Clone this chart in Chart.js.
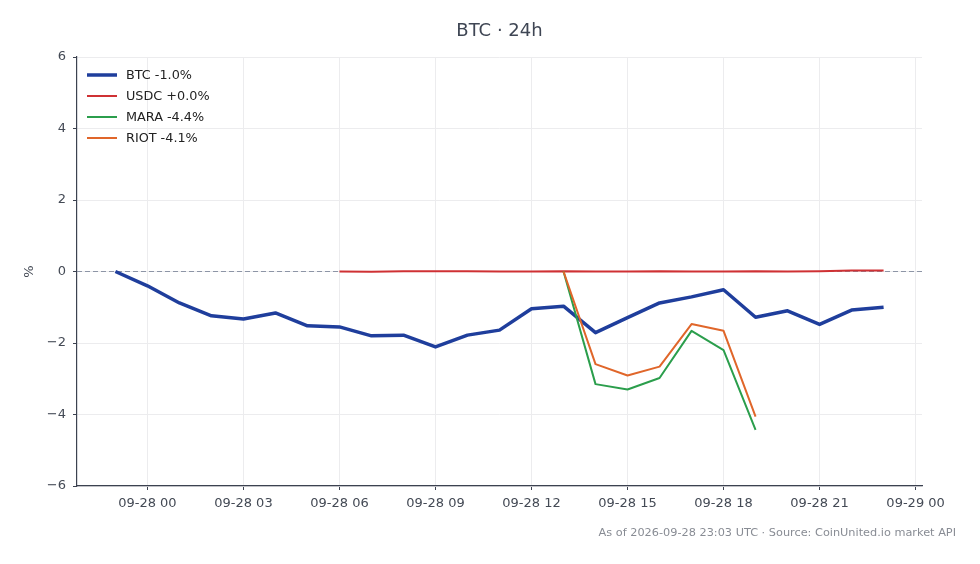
<!DOCTYPE html>
<html>
<head>
<meta charset="utf-8">
<script src="https://cdn.jsdelivr.net/npm/chart.js@4.4.1/dist/chart.umd.min.js"></script>
<style>
  html, body { margin: 0; padding: 0; background: #fff; }
  canvas { display: block; }
</style>
</head>
<body>
<canvas id="c" width="980" height="564"></canvas>
<script>
// hours relative to 09-28 00:00 UTC
const btcHours = [-1, 0, 1, 2, 3, 4, 5, 6, 7, 8, 9, 10, 11, 12, 13, 14, 15, 16, 17, 18, 19, 20, 21, 22, 23];
const btcPct = [0.0, -0.40, -0.88, -1.24, -1.33, -1.16, -1.52, -1.55, -1.80, -1.78, -2.11, -1.78, -1.64, -1.04, -0.97, -1.71, -1.29, -0.88, -0.71, -0.51, -1.28, -1.10, -1.48, -1.08, -1.0];

const usdcHours = [6, 7, 8, 9, 10, 11, 12, 13, 14, 15, 16, 17, 18, 19, 20, 21, 22, 23];
const usdcPct = [0.0, -0.01, 0.01, 0.01, 0.01, 0.0, 0.0, 0.01, 0.0, 0.0, 0.01, 0.0, 0.0, 0.01, 0.0, 0.01, 0.03, 0.03];

const miningHours = [13, 14, 15, 16, 17, 18, 19];
const maraPct = [0.0, -3.15, -3.30, -2.98, -1.66, -2.20, -4.43];
const riotPct = [0.0, -2.59, -2.91, -2.66, -1.47, -1.66, -4.06];

const seriesLabels = ['BTC -1.0%', 'USDC +0.0%', 'MARA -4.4%', 'RIOT -4.1%'];
const seriesColors = ['#1f3e9c', '#cf3134', '#2b9e4c', '#e0662a'];
const seriesWidths = [3.5, 2, 2, 2];

const xTicks = [0, 3, 6, 9, 12, 15, 18, 21, 24];
const yTicks = [-6, -4, -2, 0, 2, 4, 6];

const titleText = 'BTC \u00b7 24h';
const footText = 'As of 2026-09-28 23:03 UTC \u00b7 Source: CoinUnited.io market API';

function pts(xs, ys) {
  return xs.map((x, i) => ({ x: x, y: ys[i] }));
}

function hourLabel(h) {
  if (h >= 24) return '09-29 ' + String(h - 24).padStart(2, '0');
  return '09-28 ' + String(h).padStart(2, '0');
}

const FONT = '"DejaVu Sans", sans-serif';

const extras = {
  id: 'extras',
  beforeDatasetsDraw(chart) {
    const ctx = chart.ctx, a = chart.chartArea;
    const y0 = chart.scales.y.getPixelForValue(0);
    ctx.save();
    ctx.strokeStyle = '#8d95a6';
    ctx.lineWidth = 1;
    ctx.setLineDash([5, 3]);
    ctx.beginPath();
    ctx.moveTo(a.left, y0);
    ctx.lineTo(a.right, y0);
    ctx.stroke();
    ctx.restore();
  },
  afterDraw(chart) {
    const ctx = chart.ctx, a = chart.chartArea;
    ctx.save();
    // title
    ctx.fillStyle = '#3f4654';
    ctx.font = '18px ' + FONT;
    ctx.textAlign = 'center';
    ctx.textBaseline = 'middle';
    ctx.fillText(titleText, (a.left + a.right) / 2, 31);
    // y label
    ctx.save();
    ctx.translate(30, (a.top + a.bottom) / 2);
    ctx.rotate(-Math.PI / 2);
    ctx.fillStyle = '#444a55';
    ctx.font = '13px ' + FONT;
    ctx.fillText('%', 0, 0);
    ctx.restore();
    // footnote
    ctx.fillStyle = '#888c94';
    ctx.font = '11.3px ' + FONT;
    ctx.textAlign = 'right';
    ctx.fillText(footText, 956, 533);
    // legend
    ctx.textAlign = 'left';
    ctx.font = '12.8px ' + FONT;
    seriesLabels.forEach((lab, i) => {
      const y = 75 + i * 21;
      ctx.strokeStyle = seriesColors[i];
      ctx.lineWidth = seriesWidths[i];
      ctx.beginPath();
      ctx.moveTo(87, y);
      ctx.lineTo(117, y);
      ctx.stroke();
      ctx.fillStyle = '#222';
      ctx.fillText(lab, 126, y + 1);
    });
    ctx.restore();
  }
};

const tickFont = { family: FONT, size: 13 };

new Chart(document.getElementById('c'), {
  type: 'line',
  data: {
    datasets: [
      { label: seriesLabels[0], data: pts(btcHours, btcPct), borderColor: seriesColors[0], borderWidth: seriesWidths[0], order: 3 },
      { label: seriesLabels[1], data: pts(usdcHours, usdcPct), borderColor: seriesColors[1], borderWidth: seriesWidths[1], order: 2 },
      { label: seriesLabels[2], data: pts(miningHours, maraPct), borderColor: seriesColors[2], borderWidth: seriesWidths[2], order: 1 },
      { label: seriesLabels[3], data: pts(miningHours, riotPct), borderColor: seriesColors[3], borderWidth: seriesWidths[3], order: 0 }
    ]
  },
  options: {
    responsive: false,
    animation: false,
    layout: { padding: { left: 0, top: 57, right: 58, bottom: 0 } },
    elements: {
      point: { radius: 0 },
      line: { tension: 0, borderJoinStyle: 'round', borderCapStyle: 'butt' }
    },
    plugins: {
      legend: { display: false },
      tooltip: { enabled: false }
    },
    scales: {
      x: {
        type: 'linear',
        min: -2.2,
        max: 24.2,
        afterBuildTicks(scale) { scale.ticks = xTicks.map(v => ({ value: v })); },
        afterFit(scale) { scale.height = 78; },
        grid: { color: '#ececee', tickColor: '#3c4250', tickLength: 4 },
        border: { color: '#3c4250', width: 1.2 },
        ticks: {
          font: tickFont,
          color: '#444a55',
          padding: 6,
          maxRotation: 0,
          callback: v => hourLabel(v)
        }
      },
      y: {
        min: -6,
        max: 6,
        afterBuildTicks(scale) { scale.ticks = yTicks.map(v => ({ value: v })); },
        afterFit(scale) { scale.width = 77; },
        grid: { color: '#ececee', tickColor: '#3c4250', tickLength: 4 },
        border: { color: '#3c4250', width: 1.2 },
        ticks: {
          font: tickFont,
          color: '#444a55',
          padding: 7,
          callback: v => (v < 0 ? '\u2212' + Math.abs(v) : String(v))
        }
      }
    }
  },
  plugins: [extras]
});
</script>
</body>
</html>
